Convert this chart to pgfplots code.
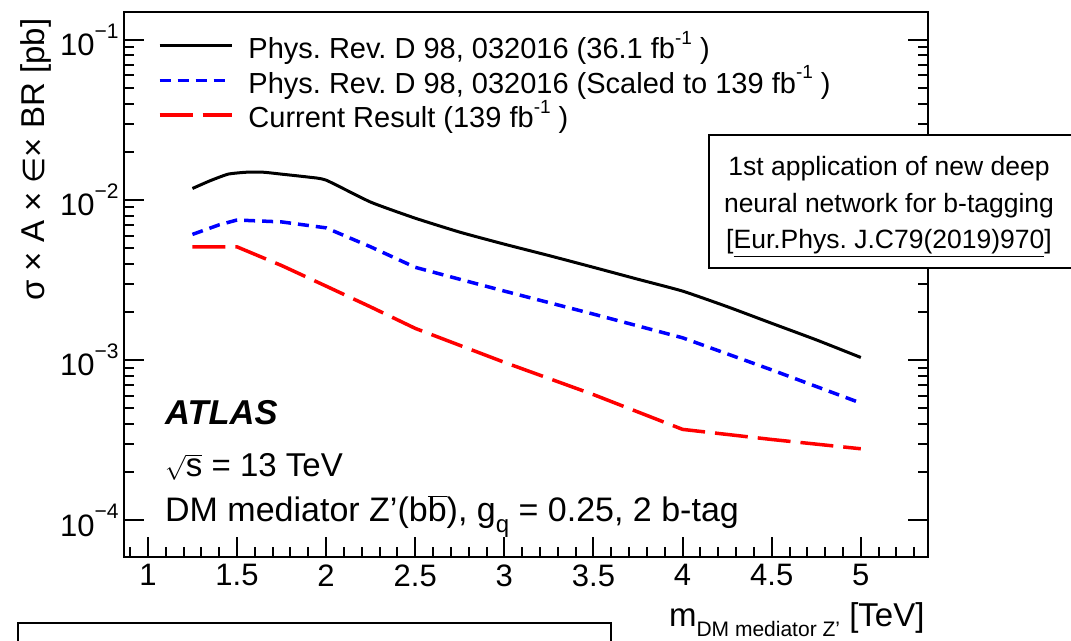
\documentclass[border=0pt]{standalone}
\usepackage{fontspec}
\setmainfont{Liberation Sans}
\newfontfamily\djv{DejaVu Sans}
\usepackage{pgfplots}
\pgfplotsset{compat=1.18}
\frenchspacing
\newcommand{\fs}[1]{\fontsize{#1}{#1}\selectfont}
\newcommand{\sexp}[1]{\raisebox{0.55em}{\fs{21}−#1}}
\newcommand{\fbinv}{fb\raisebox{0.5em}{\fs{19}-1}}

\begin{document}
\begin{tikzpicture}[x=1pt,y=1pt]
\useasboundingbox (0,0) rectangle (1071,640);
\begin{axis}[
    at={(124pt,83pt)}, anchor=south west,
    scale only axis, width=804pt, height=545pt,
    xmin=0.866, xmax=5.377,
    ymode=log, ymin=5.91e-5, ymax=0.1491,
    xtick={1,1.5,2,2.5,3,3.5,4,4.5,5},
    minor xtick={0.9,1.1,1.2,1.3,1.4,1.6,1.7,1.8,1.9,2.1,2.2,2.3,2.4,2.6,2.7,2.8,2.9,3.1,3.2,3.3,3.4,3.6,3.7,3.8,3.9,4.1,4.2,4.3,4.4,4.6,4.7,4.8,4.9,5.1,5.2,5.3},
    ytick={1e-4,1e-3,1e-2,1e-1},
    yticklabels={10\sexp{4},10\sexp{3},10\sexp{2},10\sexp{1}},
    xtick pos=left, ytick pos=both,
    tick align=inside,
    major tick length=20pt, minor tick length=10pt,
    axis line style={line width=2pt},
    every tick/.style={line width=2pt, black},
    /pgf/number format/assume math mode=true,
    tick label style={font=\fs{31}},
    xticklabel style={yshift=-4pt},
    yticklabel style={xshift=-2pt},
    legend style={draw=none, fill=none, at={(0.042,0.965)}, anchor=north west,
        font=\fs{29}, row sep=5.5pt, column sep=15pt, inner sep=0pt,
        nodes={inner sep=0pt}},
    legend image code/.code={\draw[#1] (0pt,0pt) -- (72pt,0pt);},
    legend cell align=left,
]
% Phys. Rev. D 98, 032016 (36.1 fb-1)
\addplot[black, line width=3pt, smooth, tension=0.3] coordinates {
    (1.25,0.0118) (1.35,0.0132) (1.45,0.0145) (1.55,0.0149) (1.65,0.0149)
    (1.75,0.0145) (1.9,0.0139) (2.0,0.0133) (2.25,0.0097) (2.5,0.0077)
    (2.75,0.0063) (3.0,0.0053) (3.25,0.0045) (3.5,0.0038) (3.75,0.0032)
    (4.0,0.0027) (4.25,0.00216) (4.5,0.0017) (4.75,0.00134) (5.0,0.00104)
};
% scaled to 139 fb-1
\addplot[blue, line width=3.5pt, dash pattern=on 11pt off 7pt] coordinates {
    (1.25,0.0061) (1.4,0.0070) (1.5,0.0075) (1.75,0.0073) (2.0,0.0067)
    (2.25,0.0051) (2.5,0.0038) (2.75,0.0032) (3.0,0.0027) (3.5,0.00194)
    (4.0,0.00138) (4.5,0.00087) (5.0,0.00054)
};
% current result
\addplot[red, line width=3.5pt, dash pattern=on 33pt off 10pt] coordinates {
    (1.25,0.0051) (1.5,0.0051) (1.75,0.0039) (2.0,0.0029) (2.25,0.00215)
    (2.5,0.00158) (3.0,0.00097) (3.5,0.00061) (4.0,0.00037) (4.5,0.00032)
    (5.0,0.00028)
};
\addlegendentry{Phys. Rev. D 98, 032016 (36.1 \fbinv\ )}
\addlegendentry{Phys. Rev. D 98, 032016 (Scaled to 139 \fbinv\ )}
\addlegendentry{Current Result (139 \fbinv\ )}
\end{axis}

% labels
\node[rotate=90, anchor=east, font=\fs{33}] at (36,625) {σ × A × {\djv\fs{30}∈}× BR [pb]};
\node[anchor=base east, font=\fs{33}] at (928,13) {m\raisebox{-0.28em}{\fs{21}DM mediator Z’} [TeV]};

% ATLAS text
\node[anchor=base west, inner sep=0pt, font=\bfseries\itshape\fs{34.5}] at (165,215) {ATLAS};
\node[anchor=base west, inner sep=0pt, font=\fs{33}] at (165,163) {$\sqrt{\hbox{s}}$ = 13 TeV};
\node[anchor=base west, inner sep=0pt, font=\fs{34}] at (165,118) {DM mediator Z’(b$\overline{\hbox{b}}$), g\raisebox{-0.3em}{\fs{24}q} = 0.25, 2 b-tag};

% info box
\draw[line width=2.5pt, fill=white] (709,505) rectangle (1085,372);
\node[anchor=base, inner sep=0pt, font=\fs{26.5}] at (889,464) {1st application of new deep};
\node[anchor=base, inner sep=0pt, font=\fs{26.5}] at (889,427) {neural network for b-tagging};
\node[anchor=base, inner sep=0pt, font=\fs{26.5}] at (889,391) {[\underline{Eur.Phys. J.C79(2019)970}]};

% box cut at the bottom of the image
\draw[line width=2.5pt] (18,-10) -- (18,17) -- (611,17) -- (611,-10);
\end{tikzpicture}
\end{document}
